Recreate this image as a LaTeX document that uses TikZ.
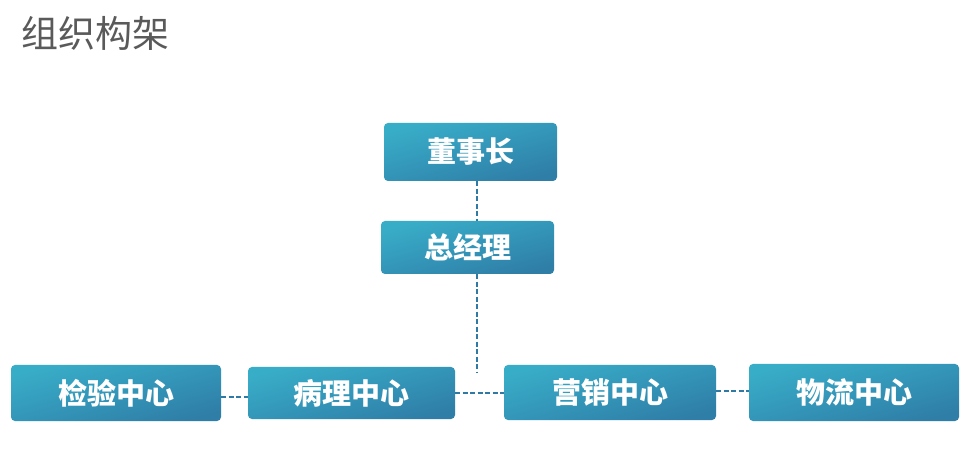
\documentclass[tikz,border=0pt]{standalone}
\usepackage{fontspec}
\newfontfamily\cjk{Noto Sans CJK SC}
\definecolor{boxlight}{HTML}{38ADC8}
\definecolor{boxdark}{HTML}{2F7EA8}
\definecolor{linkc}{HTML}{2F7AA5}
\definecolor{titlec}{HTML}{5A5A5A}
\tikzset{
  orgbox/.style={rounded corners=4pt, top color=boxlight, bottom color=boxdark, shading angle=15,
    text=white, font=\cjk\bfseries\fontsize{29}{30}\selectfont, inner sep=0pt, anchor=center},
  link/.style={draw=linkc, line width=1.6pt, dash pattern=on 5pt off 2.5pt}
}
\begin{document}
\begin{tikzpicture}[x=1pt,y=1pt]
\useasboundingbox (0,0) rectangle (969,458);
\fill[white] (0,0) rectangle (969,458);
\node[anchor=west, text=titlec, font=\cjk\fontsize{37}{38}\selectfont, inner sep=0pt] (title) at (21,425) {组织构架};
\node[orgbox, minimum width=173pt, minimum height=58pt] (dsz) at (470.5,306) {董事长};
\node[orgbox, minimum width=173pt, minimum height=53pt] (zjl) at (467.5,210.5) {总经理};
\node[orgbox, minimum width=210pt, minimum height=56pt] (jy) at (116,65) {检验中心};
\node[orgbox, minimum width=207pt, minimum height=52pt] (bl) at (351.5,65) {病理中心};
\node[orgbox, minimum width=212pt, minimum height=55pt] (yx) at (610,65.5) {营销中心};
\node[orgbox, minimum width=210pt, minimum height=57pt] (wl) at (854,65.5) {物流中心};
\coordinate (vend) at (477,85);
\draw[link] (dsz.south -| vend) -- (zjl.north -| vend);
\draw[link] (zjl.south -| vend) -- (vend);
\draw[link] (jy.east |- 0,61) -- (bl.west |- 0,61);
\draw[link] (bl.east |- 0,65) -- (yx.west |- 0,65);
\draw[link] (yx.east |- 0,67) -- (wl.west |- 0,67);
\end{tikzpicture}
\end{document}
